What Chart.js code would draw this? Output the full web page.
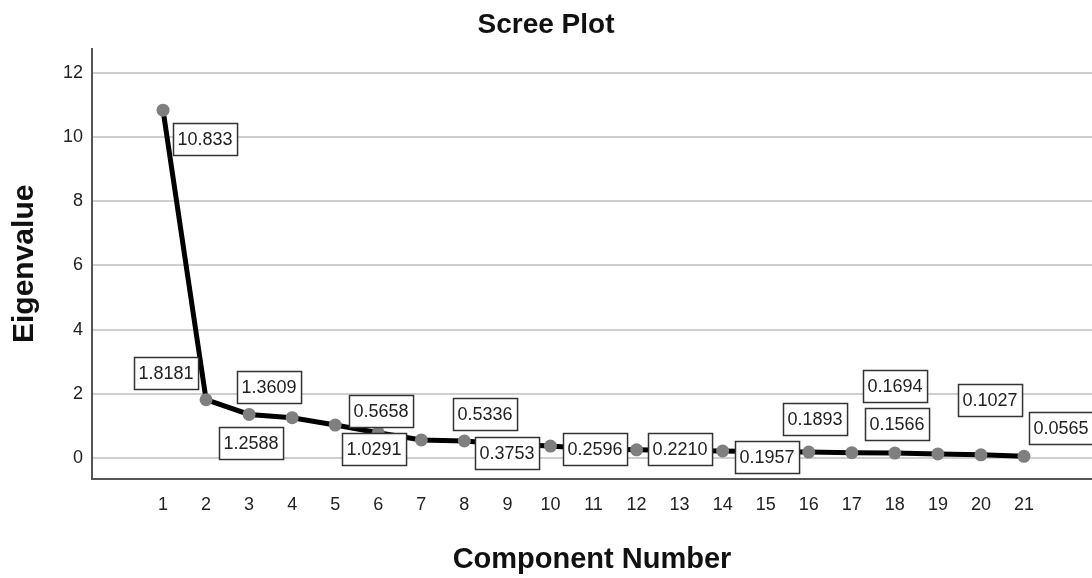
<!DOCTYPE html>
<html lang="en">
<head>
    <meta charset="UTF-8">
    <title>Scree Plot</title>
    <script src="https://cdn.jsdelivr.net/npm/chart.js"></script>
    <style>
        html, body { margin: 0; padding: 0; background: #fff; }
        #chart-container { width: 1092px; height: 578px; position: relative; }
    </style>
</head>
<body>
    <div id="chart-container">
        <canvas id="screeChart"></canvas>
    </div>

    <script>
        // Номера компонент и собственные значения
        const components = [1, 2, 3, 4, 5, 6, 7, 8, 9, 10, 11, 12, 13, 14, 15, 16, 17, 18, 19, 20, 21];
        const eigenvalues = [10.833, 1.8181, 1.3609, 1.2588, 1.0291, 0.79, 0.5658, 0.5336, 0.43, 0.3753,
                             0.285, 0.2596, 0.235, 0.2210, 0.1957, 0.1893, 0.1694, 0.1566, 0.13, 0.1027, 0.0565];
        // Подписи точек (null = без подписи)
        const pointLabels = ['10.833', '1.8181', '1.3609', '1.2588', '1.0291', null, '0.5658', '0.5336', null, '0.3753',
                             null, '0.2596', null, '0.2210', '0.1957', '0.1893', '0.1694', '0.1566', null, '0.1027', '0.0565'];
        const yTicks = [0, 2, 4, 6, 8, 10, 12];

        // Смещение левого верхнего угла рамки подписи от точки, px
        const labelOffsets = [[10, 13], [-72, -43], [-12, -43], [-73, 9], [7, 8], null, [-72, -45], [-11, -43], null, [-75, -9],
                              null, [-74, -17], null, [-75, -18], [-31, -11], [-26, -49], [11, -83], [-30, -45], null, [-23, -71], [5, -44]];

        const FONT = "'Liberation Sans', Arial, sans-serif";

        const boxLabels = {
            id: 'boxLabels',
            afterDatasetsDraw(chart) {
                const ctx = chart.ctx;
                const meta = chart.getDatasetMeta(0);
                ctx.save();
                ctx.font = '18px ' + FONT;
                ctx.textBaseline = 'middle';
                ctx.textAlign = 'left';
                meta.data.forEach((pt, i) => {
                    const text = pointLabels[i];
                    if (!text) return;
                    const off = labelOffsets[i];
                    const w = ctx.measureText(text).width + 9;
                    const h = 32;
                    const bx = Math.round(pt.x + off[0]) + 0.5;
                    const by = Math.round(pt.y + off[1]) + 0.5;
                    ctx.fillStyle = '#fff';
                    ctx.fillRect(bx, by, w, h);
                    ctx.strokeStyle = '#333';
                    ctx.lineWidth = 1.5;
                    ctx.strokeRect(bx, by, w, h);
                    ctx.fillStyle = '#222';
                    ctx.fillText(text, bx + 4, by + h / 2 + 1);
                });
                ctx.restore();
            }
        };

        const ctx = document.getElementById('screeChart').getContext('2d');
        const screeChart = new Chart(ctx, {
            type: 'line',
            data: {
                datasets: [{
                    data: components.map((c, i) => ({ x: c, y: eigenvalues[i] })),
                    borderColor: '#000',
                    borderWidth: 5,
                    pointRadius: 6.5,
                    pointBackgroundColor: '#7f7f7f',
                    pointBorderWidth: 0,
                    tension: 0
                }]
            },
            options: {
                responsive: true,
                maintainAspectRatio: false,
                animation: false,
                layout: { padding: 0, autoPadding: false },
                plugins: {
                    legend: { display: false },
                    tooltip: { enabled: false },
                    title: {
                        display: true,
                        text: 'Scree Plot',
                        color: '#111',
                        font: { family: FONT, size: 28, weight: 'bold' },
                        padding: { top: 8, bottom: 7 }
                    }
                },
                scales: {
                    x: {
                        type: 'linear',
                        min: -0.65,
                        max: 22.58,
                        afterBuildTicks: (s) => { s.ticks = components.map(v => ({ value: v })); },
                        afterFit: (s) => { s.height = 99; s.paddingLeft = 0; s.paddingRight = 0; },
                        grid: { display: false, drawTicks: false },
                        border: { display: true, color: '#555', width: 2 },
                        ticks: {
                            color: '#222',
                            font: { family: FONT, size: 18 },
                            padding: 15,
                            maxRotation: 0,
                            autoSkip: false
                        },
                        title: {
                            display: true,
                            text: 'Component Number',
                            color: '#111',
                            font: { family: FONT, size: 29, weight: 'bold' },
                            padding: { top: 0, bottom: 1 }
                        }
                    },
                    y: {
                        min: -0.65,
                        max: 12.75,
                        afterBuildTicks: (s) => { s.ticks = yTicks.map(v => ({ value: v })); },
                        afterFit: (s) => { s.width = 92; s.paddingTop = 0; s.paddingBottom = 0; },
                        grid: { color: '#cfcfcf', lineWidth: 2, drawTicks: false },
                        border: { display: true, color: '#555', width: 2 },
                        ticks: {
                            color: '#222',
                            font: { family: FONT, size: 18 },
                            padding: 9
                        },
                        title: {
                            display: true,
                            text: 'Eigenvalue',
                            color: '#111',
                            font: { family: FONT, size: 30, weight: 'bold' },
                            padding: { top: 7, bottom: 0 }
                        }
                    }
                }
            },
            plugins: [boxLabels]
        });
    </script>
</body>
</html>
